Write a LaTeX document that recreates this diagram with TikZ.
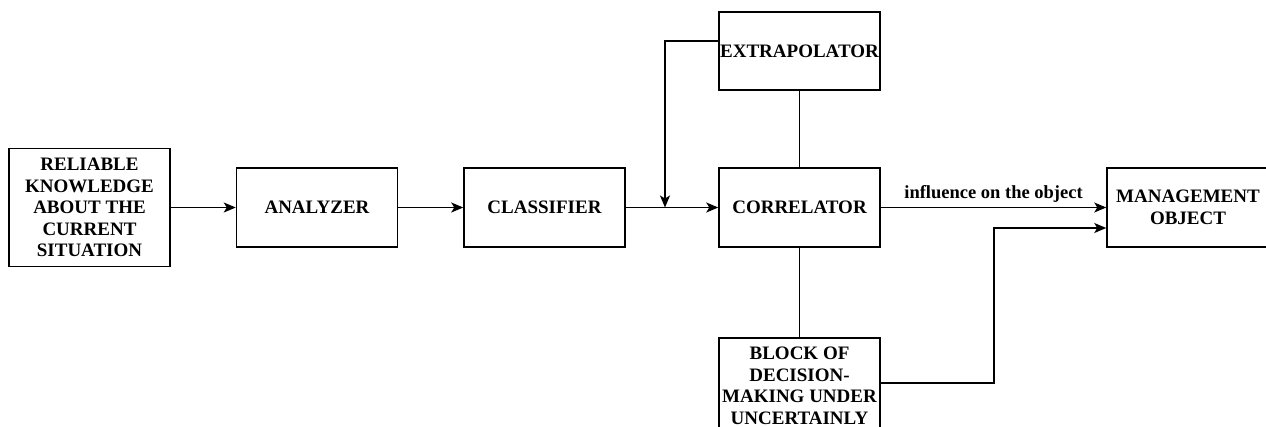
\documentclass[tikz,border=0pt]{standalone}
\usepackage{fontspec}
\setmainfont{Liberation Serif}
\usetikzlibrary{arrows.meta}

\begin{document}
\begin{tikzpicture}[x=1pt, y=-1pt,
	blk/.style={draw, line width=1.5pt, align=center, inner sep=0pt,
		minimum width=161pt, minimum height=79pt,
		font=\fontsize{19}{21.5}\selectfont\bfseries},
	arr/.style={line width=1.5pt, -{Stealth[length=12pt, width=10pt, inset=3pt]}},
	lne/.style={line width=1.5pt},
	lbl/.style={font=\fontsize{18.5}{20}\selectfont\bfseries, inner sep=4pt}]
		\clip (0,0) rectangle (1266,426);
		\node[blk, minimum height=118pt] (reliable) at (89.5,207.5) {RELIABLE\\KNOWLEDGE\\ABOUT THE\\CURRENT\\SITUATION};
		\node[blk] (analyzer) at (317,207.5) {ANALYZER};
		\node[blk] (classifier) at (544.5,207.5) {CLASSIFIER};
		\node[blk] (correlator) at (799.5,207.5) {CORRELATOR};
		\node[blk, minimum height=78pt] (extrap) at (799.5,51) {EXTRAPOLATOR};
		\node[blk, minimum height=96pt] (block) at (799.5,386) {BLOCK OF\\DECISION-\\MAKING UNDER\\UNCERTAINLY};
		\node[blk, minimum width=162pt] (mgmt) at (1188,207.5) {MANAGEMENT\\OBJECT};
		\coordinate (fb) at (665,207.5);
%		main chain
		\draw[arr] (reliable) -- (analyzer);
		\draw[arr] (analyzer) -- (classifier);
		\draw[arr] (classifier) -- (correlator);
		\draw[arr] ([yshift=10pt]extrap.west) -| (fb);
		\draw[lne] (extrap) -- (correlator);
		\draw[lne] (correlator) -- (block);
		\draw[arr] (correlator) -- node[above, lbl]{influence on the object} (mgmt);
		\draw[arr] ([yshift=3pt]block.east) -- ++(113,0) |- ([yshift=-20.5pt]mgmt.west);
	\end{tikzpicture}
\end{document}
